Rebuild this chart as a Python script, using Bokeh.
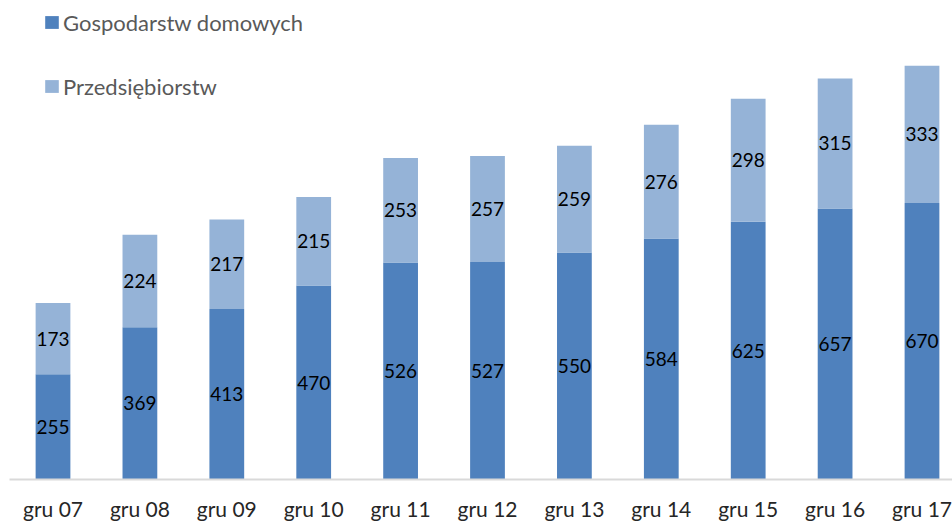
from bokeh.plotting import figure
from bokeh.models import ColumnDataSource, FixedTicker, Range1d, Legend, LegendItem
from bokeh.core.properties import value
from bokeh.embed import file_html
from bokeh.resources import INLINE

categories = ["gru 07", "gru 08", "gru 09", "gru 10", "gru 11", "gru 12",
              "gru 13", "gru 14", "gru 15", "gru 16", "gru 17"]
households = [255, 369, 413, 470, 526, 527, 550, 584, 625, 657, 670]
companies = [173, 224, 217, 215, 253, 257, 259, 276, 298, 315, 333]

series_names = ["Gospodarstw domowych", "Przedsiębiorstw"]
colors = ["#4F81BD", "#95B3D7"]
FONT = "Lato"

xs = list(range(len(categories)))
src = ColumnDataSource(dict(x=xs, h=households, c=companies))

p = figure(width=952, height=523, output_backend="svg", toolbar_location=None,
           x_range=Range1d(-0.5006, 10.351), y_range=Range1d(0, 1161),
           min_border_left=9, min_border_right=0, min_border_top=0, min_border_bottom=41)
p.outline_line_color = None
p.grid.visible = False
p.yaxis.visible = False

r = p.vbar_stack(["h", "c"], x="x", width=0.40, source=src, color=colors,
                 line_color=None)

lab_h = ColumnDataSource(dict(x=xs, y=[v / 2 for v in households],
                              t=[str(v) for v in households]))
lab_c = ColumnDataSource(dict(x=xs, y=[h + c / 2 for h, c in zip(households, companies)],
                              t=[str(v) for v in companies]))
for s in (lab_h, lab_c):
    p.text(x="x", y="y", text="t", source=s, text_align="center",
           text_baseline="middle", text_font=value(FONT),
           text_font_size="19px", text_color="#000000")

xa = p.xaxis[0]
xa.ticker = FixedTicker(ticks=xs)
xa.major_label_overrides = {i: c for i, c in enumerate(categories)}
xa.major_tick_line_color = None
xa.minor_tick_line_color = None
xa.major_tick_out = 0
xa.major_tick_in = 0
xa.minor_tick_out = 0
xa.axis_label_standoff = 0
xa.axis_line_color = "#D9D9D9"
xa.axis_line_width = 2
xa.major_label_text_font = FONT
xa.major_label_text_font_size = "21px"
xa.major_label_text_color = "#262626"
xa.major_label_standoff = 16

legend = Legend(items=[LegendItem(label=series_names[0], renderers=[r[0]]),
                       LegendItem(label=series_names[1], renderers=[r[1]])],
                location=(34, 378), orientation="vertical",
                glyph_width=17, glyph_height=16, label_height=30,
                spacing=34, padding=0, margin=0, label_standoff=3,
                label_text_font=FONT, label_text_font_size="22px",
                label_text_color="#595959",
                border_line_color=None, background_fill_alpha=0)
p.add_layout(legend, "center")

open("out.html", "w").write(file_html(p, INLINE))
